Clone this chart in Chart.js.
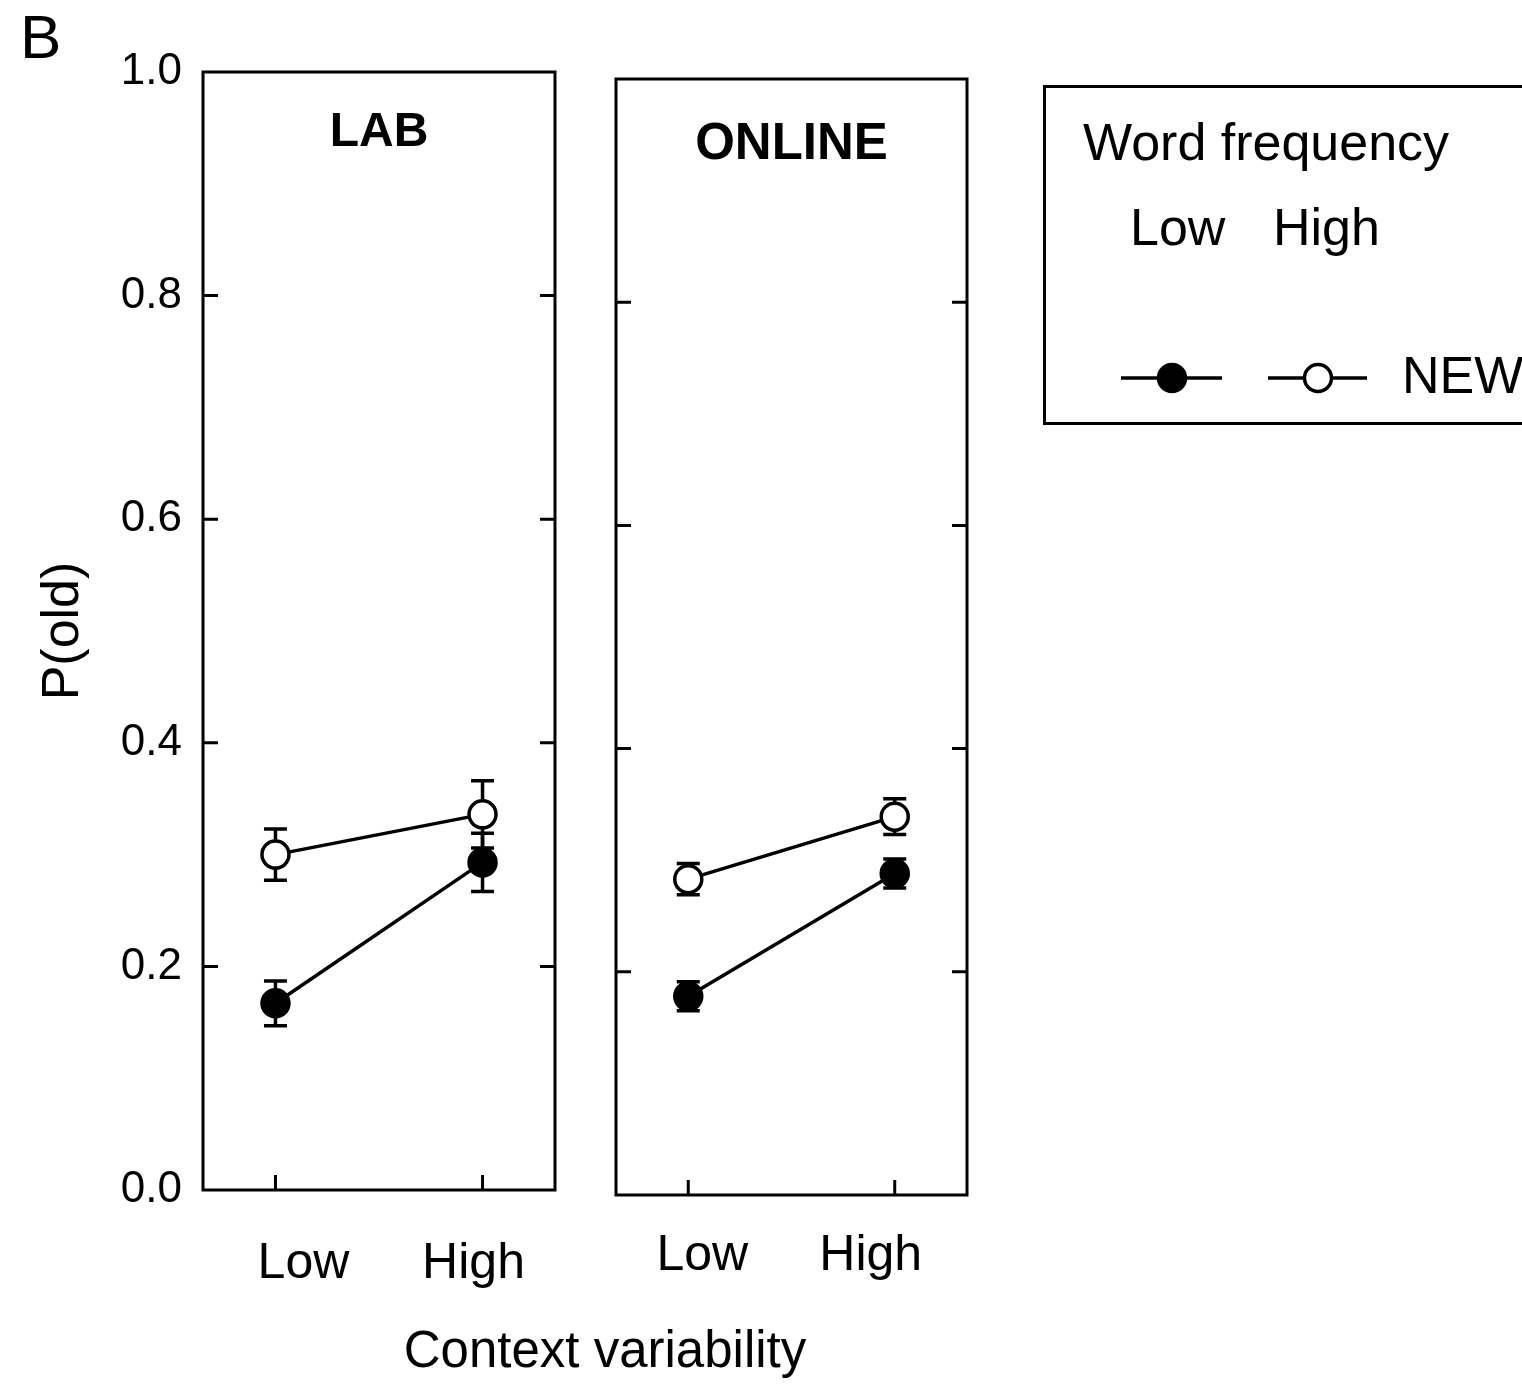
<!DOCTYPE html>
<html>
<head>
<meta charset="utf-8">
<title>P(old) by context variability</title>
<script src="https://cdn.jsdelivr.net/npm/chart.js@4.4.0/dist/chart.umd.min.js"></script>
<style>
  html, body { margin: 0; padding: 0; background: #fff; }
  body {
    width: 1522px; height: 1385px; position: relative; overflow: hidden;
    font-family: 'Liberation Sans', Arial, Helvetica, sans-serif; color: #000;
  }
  canvas { position: absolute; top: 0; }
  #lab { left: 0; }
  #online { left: 590px; }
  .txt { position: absolute; white-space: nowrap; line-height: 1; }
  #panelLetter { left: 20px; top: 6px; font-size: 62px; }
  #xTitle { left: 605px; top: 1324px; font-size: 51px; transform: translateX(-50%); }
  #legend {
    position: absolute; left: 1043px; top: 85px; width: 540px; height: 340px;
    border: 3px solid #000; box-sizing: border-box;
  }
  #legend .txt { font-size: 52px; }
  #legend svg { position: absolute; left: 0; top: 0; }
</style>
</head>
<body>
<div id="panelLetter" class="txt">B</div>
<canvas id="lab" width="590" height="1385"></canvas>
<canvas id="online" width="400" height="1385"></canvas>
<div id="xTitle" class="txt">Context variability</div>
<div id="legend">
  <div class="txt" style="left:37px; top:28px">Word frequency</div>
  <div class="txt" style="left:84px; top:113px">Low</div>
  <div class="txt" style="left:227px; top:113px">High</div>
  <div class="txt" style="left:356px; top:261px">NEW</div>
  <svg width="540" height="340">
    <g stroke="#000" stroke-width="3.5">
      <line x1="75" y1="290" x2="176" y2="290"/>
      <circle cx="126" cy="290" r="13.5" fill="#000"/>
      <line x1="222" y1="290" x2="321" y2="290"/>
      <circle cx="272" cy="290" r="13.5" fill="#fff"/>
    </g>
  </svg>
</div>
<script>
// Recognition data: proportion "old" responses to NEW words,
// split by word frequency, across two levels of context variability.
const conditions = ['Low', 'High'];
const conditionX = [0, 1];
const yTicks = [0, 0.2, 0.4, 0.6, 0.8, 1.0];

const labLowFreq     = [0.167, 0.293];
const labLowFreqErr  = [0.020, 0.026];
const labHighFreq    = [0.300, 0.336];
const labHighFreqErr = [0.023, 0.030];

const onlineLowFreq     = [0.178, 0.288];
const onlineLowFreqErr  = [0.013, 0.013];
const onlineHighFreq    = [0.283, 0.339];
const onlineHighFreqErr = [0.014, 0.016];

const FONT = "'Liberation Sans', Arial, Helvetica, sans-serif";
const TICK = 15;
const CAP = 11.5;
const STROKE = 3.5;

Chart.defaults.color = '#000';
Chart.defaults.font.family = FONT;

const toPoints = vals => conditionX.map((x, i) => ({ x, y: vals[i] }));

// frame, inward ticks, error bars, panel title and category labels
const panelDecor = {
  id: 'panelDecor',
  beforeDatasetsDraw(chart, args, opts) {
    const { ctx, chartArea: a, scales: { x, y } } = chart;
    ctx.save();
    ctx.strokeStyle = '#000';
    ctx.lineCap = 'butt';

    ctx.lineWidth = 3;
    ctx.strokeRect(a.left, a.top, a.right - a.left, a.bottom - a.top);

    ctx.lineWidth = 3;
    ctx.beginPath();
    yTicks.slice(1, -1).forEach(v => {
      const py = y.getPixelForValue(v);
      ctx.moveTo(a.left, py);  ctx.lineTo(a.left + TICK, py);
      ctx.moveTo(a.right, py); ctx.lineTo(a.right - TICK, py);
    });
    conditionX.forEach(v => {
      const px = x.getPixelForValue(v);
      ctx.moveTo(px, a.bottom); ctx.lineTo(px, a.bottom - TICK);
    });
    ctx.stroke();

    ctx.lineWidth = STROKE;
    chart.data.datasets.forEach((ds, i) => {
      chart.getDatasetMeta(i).data.forEach((pt, j) => {
        const v = ds.data[j].y, e = ds.errors[j];
        const top = y.getPixelForValue(v + e);
        const bot = y.getPixelForValue(v - e);
        ctx.beginPath();
        ctx.moveTo(pt.x, top); ctx.lineTo(pt.x, bot);
        ctx.moveTo(pt.x - CAP, top); ctx.lineTo(pt.x + CAP, top);
        ctx.moveTo(pt.x - CAP, bot); ctx.lineTo(pt.x + CAP, bot);
        ctx.stroke();
      });
    });

    ctx.fillStyle = '#000';
    ctx.textAlign = 'center';
    ctx.textBaseline = 'middle';
    ctx.font = `bold ${opts.titleSize}px ${FONT}`;
    ctx.fillText(opts.title, (a.left + a.right) / 2, a.top + opts.titleOffset);

    ctx.font = `50px ${FONT}`;
    conditions.forEach((lab, i) => {
      const px = x.getPixelForValue(conditionX[i]) + opts.labelShift[i];
      ctx.fillText(lab, px, a.bottom + opts.labelOffset);
    });
    ctx.restore();
  }
};

function makePanel(canvasId, lowVals, lowErr, highVals, highErr, panel) {
  const series = (label, data, errors, fill) => ({
    label,
    data: toPoints(data),
    errors,
    borderColor: '#000',
    borderWidth: STROKE,
    pointRadius: 13.5,
    pointBorderWidth: STROKE,
    pointBackgroundColor: fill,
    pointBorderColor: '#000'
  });
  return new Chart(document.getElementById(canvasId), {
    type: 'line',
    data: {
      datasets: [
        series('Low', lowVals, lowErr, '#000'),
        series('High', highVals, highErr, '#fff')
      ]
    },
    options: {
      responsive: false,
      animation: false,
      events: [],
      layout: { padding: panel.padding },
      plugins: {
        legend: { display: false },
        tooltip: { enabled: false },
        panelDecor: panel.decor
      },
      scales: {
        x: { type: 'linear', min: -0.35, max: 1.35, display: false },
        y: {
          min: 0, max: 1,
          display: panel.showY,
          afterFit: s => { s.width = panel.yWidth; },
          grid: { display: false, drawTicks: false },
          border: { display: false },
          ticks: {
            stepSize: 0.2,
            padding: 21,
            font: { size: 44 },
            callback: v => v.toFixed(1)
          },
          title: {
            display: true,
            text: 'P(old)',
            font: { size: 52 },
            padding: { top: 32 }
          }
        }
      }
    },
    plugins: [panelDecor]
  });
}

makePanel('lab', labLowFreq, labLowFreqErr, labHighFreq, labHighFreqErr, {
  padding: { top: 72, bottom: 195, left: 0, right: 35 },
  showY: true,
  yWidth: 203,
  decor: { title: 'LAB', titleSize: 48, titleOffset: 61, labelShift: [28, -9], labelOffset: 74 }
});

makePanel('online', onlineLowFreq, onlineLowFreqErr, onlineHighFreq, onlineHighFreqErr, {
  padding: { top: 79, bottom: 190, left: 26, right: 23 },
  showY: false,
  yWidth: 0,
  decor: { title: 'ONLINE', titleSize: 51, titleOffset: 66, labelShift: [14, -24], labelOffset: 61 }
});
</script>
</body>
</html>
